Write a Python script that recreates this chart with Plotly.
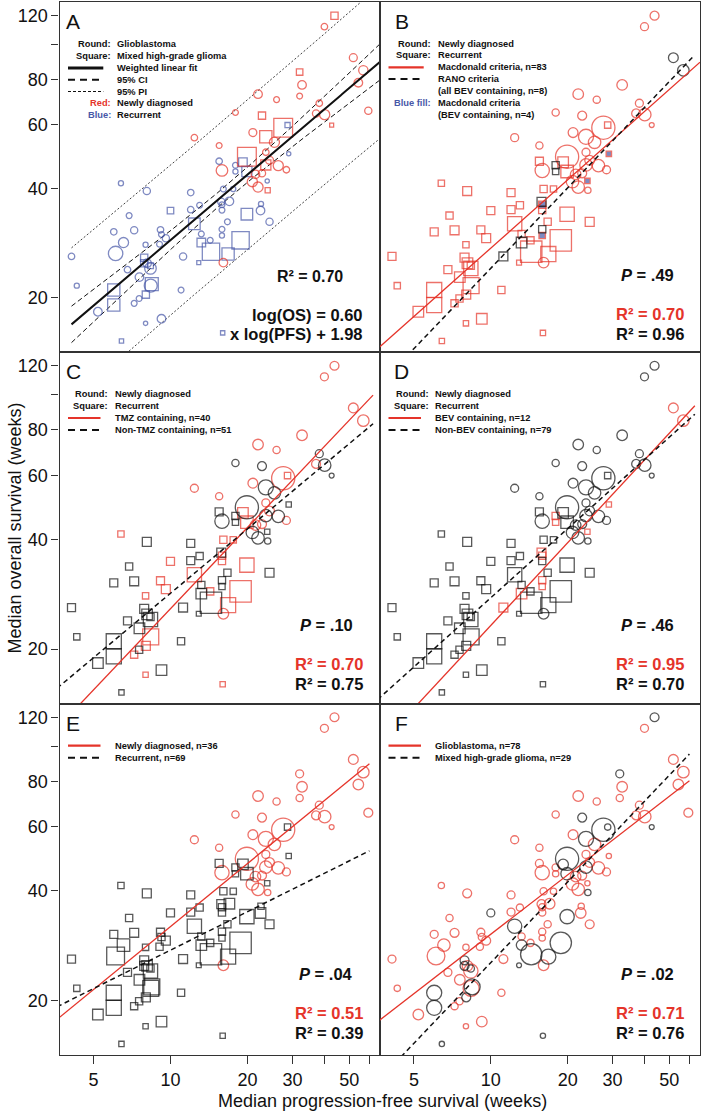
import numpy as np
import plotly.graph_objects as go

# ------------------------------------------------------------------ data
# Newly diagnosed studies (N1..N36): median PFS / OS in weeks, sample size
pfs_newly = [43.8, 40.0, 51.9, 32.0, 56.8, 54.3, 32.7, 22.0, 26.0, 32.0, 17.95, 38.2,
             59.4, 22.8, 37.1, 40.1, 42.7, 12.4, 27.6, 21.0, 23.6, 25.5, 15.5, 19.9,
             23.6, 15.9, 26.4, 28.4, 23.6, 24.4, 20.9, 22.0, 24.0, 16.1, 21.5, 22.8]
os_newly = [120.0, 111.9, 91.9, 83.9, 84.8, 78.4, 77.3, 72.9, 70.4, 72.0, 64.9, 68.8,
            65.6, 63.6, 64.5, 64.0, 59.9, 55.3, 58.9, 57.1, 55.6, 53.7, 52.6, 49.0,
            50.4, 44.9, 46.3, 45.1, 46.5, 47.9, 41.8, 40.4, 39.6, 25.0, 43.8, 44.1]
n_newly = [20, 16, 24, 16, 33, 28, 28, 28, 13, 13, 13, 16,
           20, 20, 20, 39, 6, 16, 134, 24, 57, 39, 13, 134,
           16, 51, 39, 16, 39, 24, 39, 39, 10, 28, 28, 20]

# Recurrent studies (R1..R68)
pfs_recur = [28.7, 29.0, 15.5, 19.2, 17.95, 17.95, 19.9, 23.9, 6.4, 8.08, 12.0, 16.1,
             17.6, 15.8, 17.0, 13.0, 15.9, 10.0, 12.0, 15.9, 6.89, 19.9, 22.5, 22.6,
             16.7, 24.4, 12.4, 6.0, 7.21, 6.55, 6.10, 7.99, 9.14, 9.22, 9.59, 9.06,
             13.2, 14.3, 15.9, 15.9, 13.2, 14.4, 18.8, 16.8, 11.2, 12.9, 7.89, 8.35,
             8.10, 8.35, 6.79, 7.56, 4.10, 4.30, 6.0, 6.0, 8.37, 8.01, 11.0, 7.21,
             7.54, 5.20, 9.22, 7.99, 6.43, 16.0, 8.45, 7.89]
os_recur = [59.9, 49.9, 47.6, 47.3, 46.4, 44.6, 44.6, 42.0, 41.4, 39.4, 39.0, 39.9,
            39.9, 36.8, 36.9, 36.0, 36.1, 34.8, 35.0, 34.9, 33.7, 34.0, 34.8, 36.3,
            32.4, 32.4, 32.0, 30.4, 30.7, 28.4, 26.5, 28.0, 30.8, 29.9, 29.2, 28.1,
            30.0, 28.8, 30.9, 29.7, 28.4, 26.8, 28.8, 26.4, 26.0, 25.0, 25.8, 24.5,
            24.9, 24.1, 23.9, 22.8, 26.0, 21.6, 21.0, 19.1, 21.6, 20.4, 21.0, 19.3,
            19.9, 18.3, 17.5, 17.0, 15.2, 16.0, 21.8, 24.9]
n_recur = [10, 7, 16, 28, 13, 10, 39, 7, 10, 20, 16, 13,
           10, 20, 28, 13, 13, 16, 16, 13, 13, 51, 28, 10,
           13, 20, 51, 16, 20, 39, 79, 10, 16, 13, 20, 13,
           13, 13, 13, 10, 28, 114, 114, 57, 20, 6, 20, 13,
           28, 51, 16, 28, 16, 10, 57, 57, 64, 20, 13, 13,
           13, 28, 28, 7, 7, 7, 64, 20]

mixed_glioma_ids = ["N1", "N4", "N14", "N17", "N19", "N21", "N24", "N29", "N33",
                    "R1", "R4", "R7", "R18", "R22", "R27", "R41", "R42", "R43", "R44",
                    "R46", "R47", "R48", "R55", "R56", "R58", "R65", "R66", "R67", "R68"]
tmz_ids = ["N1", "N2", "N3", "N5", "N7", "N8", "N9", "N15", "N18", "N19", "N20", "N23",
           "N25", "N28", "N30", "N34", "N35", "N36",
           "R1", "R4", "R7", "R9", "R12", "R13", "R17", "R18", "R20", "R22", "R27", "R32",
           "R33", "R35", "R38", "R43", "R44", "R57", "R58", "R60", "R64", "R66"]
bev_ids = ["N3", "N5", "R2", "R5", "R6", "R8", "R14", "R17", "R39", "R40", "R41", "R45"]
rano_ids = ["N3", "N5", "R5", "R6", "R14", "R39", "R41", "R45"]
not_in_bcd_ids = ["N4", "N6", "N10", "N13", "R15", "R23", "R24", "R30", "R31", "R34",
                  "R36", "R67", "R68"]

# Weighted fits (log10 OS = slope * log10 PFS + intercept), panels B..F
fit_panels = ["B", "C", "D", "E", "F"]
fit_red_slope = [0.626, 0.7405, 0.755, 0.5746, 0.542]
fit_red_intercept = [0.812, 0.6712, 0.6107, 0.9297, 0.9411]
fit_red_pfs_max = [66.0, 62.0, 63.0, 60.0, 60.0]
fit_black_slope = [0.7366, 0.5878, 0.6307, 0.3506, 0.736]
fit_black_intercept = [0.6458, 0.8663, 0.8112, 1.0888, 0.6692]
fit_black_pfs_max = [62.0, 62.0, 63.0, 60.0, 60.0]
# Panel A: ln(OS) = 0.60 ln(PFS) + 1.98
fitA_slope, fitA_intercept_ln = 0.60, 1.98
ciA_center, ciA_half0, ciA_growth, piA_half = 1.22, 0.02, 0.076, 0.205

p_values = [".49", ".10", ".46", ".04", ".02"]
r2_red = ["0.70", "0.70", "0.95", "0.51", "0.71"]
r2_black = ["0.96", "0.75", "0.70", "0.39", "0.76"]

x_tick_vals = [5, 10, 20, 30, 40, 50, 60]
x_tick_text = ["5", "10", "20", "30", "", "50", ""]
y_tick_vals = [20, 40, 60, 80, 100, 120]
y_tick_text = ["20", "40", "60", "80", "", "120"]

# ------------------------------------------------------------------ assemble
ids = [f"N{i+1}" for i in range(len(pfs_newly))] + [f"R{i+1}" for i in range(len(pfs_recur))]
pfs = np.array(pfs_newly + pfs_recur)
os_ = np.array(os_newly + os_recur)
npat = np.array(n_newly + n_recur, dtype=float)
assert len(pfs) == len(os_) == len(npat) == len(ids)
newly = np.array([s.startswith("N") for s in ids])
gbm = np.array([s not in mixed_glioma_ids for s in ids])
tmz = np.array([s in tmz_ids for s in ids])
bev = np.array([s in bev_ids for s in ids])
rano = np.array([s in rano_ids for s in ids])
in_bcd = np.array([s not in not_in_bcd_ids for s in ids])

W, H = 702, 1114
FONT = "Liberation Sans, Arial, sans-serif"
RED = "#e5342a"
BLUE = "#4858a8"
BLACK = "#111111"
FRAME = "#333333"
COLS = [(59.5, 380.0), (380.0, 700.0)]
ROWS = [(2.0, 352.0), (352.0, 703.5), (703.5, 1055.0)]
XR = [np.log10(3.68), np.log10(66.0)]
YR = [np.log10(14.17), np.log10(130.9)]

fig = go.Figure()
axes = {}
for i in range(6):
    r, c = divmod(i, 2)
    s = "" if i == 0 else str(i + 1)
    x0, x1 = COLS[c]
    y0, y1 = ROWS[r]
    axes["xaxis" + s] = dict(domain=[x0 / W, x1 / W], type="log", range=XR, anchor="y" + s,
                             showline=True, mirror=True, linecolor=FRAME, linewidth=1.3,
                             showgrid=False, zeroline=False,
                             tickvals=x_tick_vals, ticktext=x_tick_text,
                             ticks="outside" if r == 2 else "", showticklabels=(r == 2),
                             ticklen=8, tickwidth=1, tickcolor=FRAME,
                             tickfont=dict(size=18, color=BLACK, family=FONT))
    axes["yaxis" + s] = dict(domain=[1 - y1 / H, 1 - y0 / H], type="log", range=YR, anchor="x" + s,
                             showline=True, mirror=True, linecolor=FRAME, linewidth=1.3,
                             showgrid=False, zeroline=False,
                             tickvals=y_tick_vals, ticktext=y_tick_text,
                             ticks="outside" if c == 0 else "", showticklabels=(c == 0),
                             ticklen=7, tickwidth=1, tickcolor=FRAME,
                             tickfont=dict(size=18, color=BLACK, family=FONT))
fig.update_layout(**axes)


def axref(i):
    s = "" if i == 0 else str(i + 1)
    return "x" + s, "y" + s


def add_pts(i, mask, symbol, color, scale, fill=None):
    xa, ya = axref(i)
    if mask.sum() == 0:
        return
    if fill is None:
        marker = dict(symbol=symbol + "-open", color=color, size=scale * np.sqrt(npat[mask]),
                      line=dict(color=color, width=1.3))
    else:
        marker = dict(symbol=symbol, color=fill, size=scale * np.sqrt(npat[mask]),
                      line=dict(color=color, width=1.4))
    fig.add_trace(go.Scatter(x=pfs[mask], y=os_[mask], mode="markers", marker=marker,
                             xaxis=xa, yaxis=ya, showlegend=False, hoverinfo="skip"))


def add_line(i, xs, ys, color, width, dash="solid"):
    xa, ya = axref(i)
    fig.add_trace(go.Scatter(x=xs, y=ys, mode="lines", line=dict(color=color, width=width, dash=dash),
                             xaxis=xa, yaxis=ya, showlegend=False, hoverinfo="skip"))


SA, SB = 1.62, 2.0

# ---- Panel A
lgA = np.linspace(np.log10(4.1), np.log10(70), 200)
fitA = fitA_slope * lgA + fitA_intercept_ln / np.log(10)
ci = np.sqrt(ciA_half0 ** 2 + (ciA_growth * (lgA - ciA_center)) ** 2)
pi = np.sqrt(piA_half ** 2 + ci ** 2)
for sgn in (1, -1):
    add_line(0, 10 ** lgA, 10 ** (fitA + sgn * pi), BLACK, 0.8, "2px,2px")
for sgn in (1, -1):
    add_line(0, 10 ** lgA, 10 ** (fitA + sgn * ci), BLACK, 1, "5px,3px")
for nd, col in ((False, BLUE), (True, RED)):
    add_pts(0, (newly == nd) & gbm, "circle", col, SA)
    add_pts(0, (newly == nd) & ~gbm, "square", col, SA)
add_line(0, 10 ** lgA, 10 ** fitA, BLACK, 2)


def shape_of(mask_newly):
    return "circle" if mask_newly else "square"


# ---- Panels B, C, D (subset)
for i, red_mask, black_mask, fill_mask in (
        (1, in_bcd & ~rano & ~bev, in_bcd & rano, in_bcd & bev & ~rano),
        (2, in_bcd & tmz, in_bcd & ~tmz, None),
        (3, in_bcd & bev, in_bcd & ~bev, None)):
    for nd in (True, False):
        add_pts(i, red_mask & (newly == nd), shape_of(nd), RED, SB)
    if fill_mask is not None:
        for nd in (True, False):
            add_pts(i, fill_mask & (newly == nd), shape_of(nd), RED, SB, fill=BLUE)
    for nd in (True, False):
        add_pts(i, black_mask & (newly == nd), shape_of(nd), BLACK, SB)

# ---- Panel E
add_pts(4, newly, "circle", RED, SB)
add_pts(4, ~newly, "square", BLACK, SB)
# ---- Panel F
add_pts(5, gbm, "circle", RED, SB)
add_pts(5, ~gbm, "circle", BLACK, SB)

# ---- fitted lines B..F
for k in range(5):
    i = k + 1
    lr = np.linspace(np.log10(3.6), np.log10(fit_red_pfs_max[k]), 100)
    lb = np.linspace(np.log10(3.6), np.log10(fit_black_pfs_max[k]), 100)
    add_line(i, 10 ** lr, 10 ** (fit_red_slope[k] * lr + fit_red_intercept[k]), RED, 1.3)
    add_line(i, 10 ** lb, 10 ** (fit_black_slope[k] * lb + fit_black_intercept[k]), BLACK, 1.5, "5px,3.5px")


# ------------------------------------------------------------------ text
def ann(x, y, text, size, color=BLACK, xanchor="left", yanchor="middle", **kw):
    fig.add_annotation(x=x / W, y=1 - y / H, xref="paper", yref="paper", text=text,
                       showarrow=False, xanchor=xanchor, yanchor=yanchor,
                       font=dict(size=size, color=color, family=FONT), **kw)


def seg(x0, x1, y, color, width, dash="solid"):
    fig.add_shape(type="line", xref="paper", yref="paper", x0=x0 / W, x1=x1 / W,
                  y0=1 - y / H, y1=1 - y / H, line=dict(color=color, width=width, dash=dash))


ORIG = [(COLS[i % 2][0], ROWS[i // 2][0]) for i in range(6)]
letters = "ABCDEF"
for i, L in enumerate(letters):
    ox, oy = ORIG[i]
    ann(ox + (13.8 if i % 2 == 0 else 21.5), oy + 19.5, L, 21, xanchor="center")

legends = {
    0: (56.8, 42.3, 11.8, [("Round:", BLACK, "Glioblastoma", None),
                           ("Square:", BLACK, "Mixed high-grade glioma", None),
                           ("", BLACK, "Weighted linear fit", (BLACK, 3, "solid")),
                           ("", BLACK, "95% CI", (BLACK, 2, "7px,5px")),
                           ("", BLACK, "95% PI", (BLACK, 1.2, "3px,2px")),
                           ("Red:", RED, "Newly diagnosed", None),
                           ("Blue:", BLUE, "Recurrent", None)]),
    1: (56.7, 41.7, 11.8, [("Round:", BLACK, "Newly diagnosed", None),
                           ("Square:", BLACK, "Recurrent", None),
                           ("", BLACK, "Macdonald criteria, n=83", (RED, 2.2, "solid")),
                           ("", BLACK, "RANO criteria", (BLACK, 2, "7px,5px")),
                           ("", BLACK, "(all BEV containing, n=8)", None),
                           ("Blue fill:", BLUE, "Macdonald criteria", None),
                           ("", BLACK, "(BEV containing, n=4)", None)]),
    2: (54.0, 42.0, 12.0, [("Round:", BLACK, "Newly diagnosed", None),
                           ("Square:", BLACK, "Recurrent", None),
                           ("", BLACK, "TMZ containing, n=40", (RED, 2.2, "solid")),
                           ("", BLACK, "Non-TMZ containing, n=51", (BLACK, 2, "7px,5px"))]),
    3: (54.0, 42.0, 12.0, [("Round:", BLACK, "Newly diagnosed", None),
                           ("Square:", BLACK, "Recurrent", None),
                           ("", BLACK, "BEV containing, n=12", (RED, 2.2, "solid")),
                           ("", BLACK, "Non-BEV containing, n=79", (BLACK, 2, "7px,5px"))]),
    4: (54.0, 42.2, 12.0, [("", BLACK, "Newly diagnosed, n=36", (RED, 2.2, "solid")),
                           ("", BLACK, "Recurrent, n=69", (BLACK, 2, "7px,5px"))]),
    5: (54.0, 42.2, 12.0, [("", BLACK, "Glioblastoma, n=78", (RED, 2.2, "solid")),
                           ("", BLACK, "Mixed high-grade glioma, n=29", (BLACK, 2, "7px,5px"))]),
}
for i, (vx, y0, dy, rows) in legends.items():
    ox, oy = ORIG[i]
    for k, (lab, lcol, val, sample) in enumerate(rows):
        y = oy + y0 + dy * k
        if lab:
            ann(ox + vx - 3.5, y, f"<b>{lab}</b>", 9.3, lcol, xanchor="right")
        ann(ox + vx - 1, y, f"<b>{val}</b>", 9.3, BLACK, xanchor="left")
        if sample is not None:
            scol, sw, sd = sample
            seg(ox + 8.5, ox + vx - 13, y, scol, sw, sd)

# stats text
ORA = ORIG[0]
ann(ORA[0] + 285.0, ORA[1] + 274.7, "<b>R² = 0.70</b>", 16, xanchor="right")
ann(ORA[0] + 305.0, ORA[1] + 313.0, "<b>log(OS) = 0.60</b>", 16.5, xanchor="right")
ann(ORA[0] + 305.0, ORA[1] + 332.3, "<b>x log(PFS) + 1.98</b>", 16.5, xanchor="right")
for k in range(5):
    i = k + 1
    ox, oy = ORIG[i]
    dyo = -3 if i >= 4 else 0
    ann(ox + 295.5, oy + 273 + dyo, f"<b><i>P</i> = {p_values[k]}</b>", 16.5, xanchor="right")
    ann(ox + 305.5, oy + 312 + dyo, f"<b>R² = {r2_red[k]}</b>", 16.5, RED, xanchor="right")
    ann(ox + 305.5, oy + 332 + dyo, f"<b>R² = {r2_black[k]}</b>", 16.5, BLACK, xanchor="right")

# axis titles
ann(14, 528.5, "Median overall survival (weeks)", 18, textangle=-90, xanchor="center")
ann(382.7, 1100.5, "Median progression-free survival (weeks)", 18, xanchor="center")

fig.update_layout(width=W, height=H, margin=dict(l=0, r=0, t=0, b=0),
                  paper_bgcolor="white", plot_bgcolor="white", showlegend=False,
                  font=dict(family=FONT, color=BLACK))
fig.write_html("out.html", config={"displayModeBar": False},
               post_script="document.body.style.margin='0';document.body.style.overflow='hidden';")
